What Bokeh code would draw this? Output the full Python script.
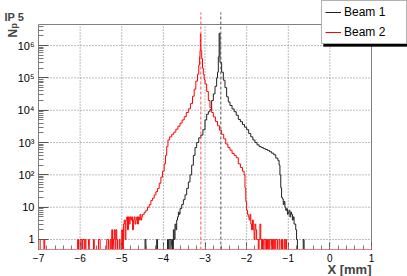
import numpy as np
from bokeh.plotting import figure
from bokeh.models import Range1d, FixedTicker, Label, Legend, LegendItem, BoxAnnotation
from bokeh.embed import file_html
from bokeh.resources import INLINE

# ---------------- data ----------------
title_text = "IP 5"
x_title = "X [mm]"
y_title = "N"
y_title_sub = "p"
names = ["Beam 1", "Beam 2"]

x_ticks = [-7, -6, -5, -4, -3, -2, -1, 0, 1]
y_ticks = [1, 10, 100, 1000, 10000, 100000, 1000000]
y_tick_labels = ["1", "10", "10²", "10³", "10⁴", "10⁵", "10⁶"]

x_limits = (-7.0, 1.0)
y_limits = (0.49, 4.5e6)      # visible plot area
y_top_ext = 1.06e7            # mean markers reach above the plot area

beam1_mean = -2.62
beam2_mean = -3.10

# Beam 1 histogram: (bin left edge [mm], entries)
beam1_bins = [
    (-7.00, 0), (-4.44, 1), (-4.42, 0), (-4.16, 1), (-4.14, 0), (-3.90, 1), (-3.88, 0),
    (-3.86, 1), (-3.82, 0), (-3.80, 1), (-3.78, 0), (-3.76, 2), (-3.74, 1), (-3.72, 3),
    (-3.70, 2), (-3.68, 4), (-3.66, 5), (-3.64, 7), (-3.62, 6), (-3.60, 9), (-3.56, 12),
    (-3.52, 17), (-3.48, 24), (-3.44, 38), (-3.40, 60), (-3.36, 100), (-3.32, 200),
    (-3.28, 400), (-3.24, 700), (-3.20, 1000), (-3.15, 1400), (-3.10, 1700), (-3.05, 2500),
    (-3.00, 5000), (-2.96, 7500), (-2.92, 9000), (-2.88, 10500), (-2.84, 20000),
    (-2.80, 32000), (-2.76, 55000), (-2.72, 100000), (-2.70, 150000), (-2.68, 450000),
    (-2.66, 2400000), (-2.64, 300000), (-2.60, 150000), (-2.56, 85000), (-2.52, 50000),
    (-2.48, 26000), (-2.44, 18000), (-2.40, 14000), (-2.35, 11000), (-2.30, 9000),
    (-2.25, 7000), (-2.20, 5200), (-2.15, 4400), (-2.10, 3600), (-2.05, 3000),
    (-2.00, 2500), (-1.95, 1900), (-1.90, 1500), (-1.85, 1200), (-1.80, 1000),
    (-1.75, 850), (-1.70, 750), (-1.65, 700), (-1.60, 650), (-1.55, 610), (-1.50, 570),
    (-1.45, 520), (-1.40, 470), (-1.35, 420), (-1.30, 330), (-1.25, 280), (-1.22, 200),
    (-1.20, 100), (-1.18, 40), (-1.16, 20), (-1.14, 18), (-1.12, 12), (-1.10, 15),
    (-1.08, 10), (-1.06, 8), (-1.04, 9), (-1.02, 6), (-1.00, 7), (-0.98, 8), (-0.96, 5),
    (-0.94, 7), (-0.92, 6), (-0.90, 4), (-0.88, 5), (-0.86, 3), (-0.82, 2), (-0.80, 1),
    (-0.78, 0), (-0.64, 1), (-0.62, 0),
]
beam1_end = 1.0

# Beam 2 histogram: (bin left edge [mm], entries)
beam2_bins = [
    (-7.00, 1), (-6.96, 0), (-6.87, 1), (-6.85, 0),
    (-6.06, 1), (-6.04, 0), (-6.00, 1), (-5.96, 0), (-5.94, 1), (-5.90, 0), (-5.88, 1),
    (-5.86, 0), (-5.80, 1), (-5.78, 0), (-5.68, 1), (-5.66, 0), (-5.56, 1), (-5.52, 0),
    (-5.36, 1), (-5.32, 0), (-5.28, 1), (-5.26, 0), (-5.24, 2), (-5.22, 0), (-5.20, 1),
    (-5.18, 2), (-5.16, 0), (-5.14, 2), (-5.12, 1), (-5.10, 0), (-5.06, 1), (-5.04, 0),
    (-5.00, 2), (-4.98, 0), (-4.96, 3), (-4.94, 4), (-4.92, 1), (-4.90, 4), (-4.88, 5),
    (-4.86, 2), (-4.84, 5), (-4.82, 3), (-4.80, 5), (-4.78, 4), (-4.76, 5), (-4.74, 2),
    (-4.72, 4), (-4.70, 5), (-4.68, 3), (-4.66, 4), (-4.64, 5), (-4.62, 3), (-4.60, 5),
    (-4.58, 4), (-4.56, 6), (-4.54, 4), (-4.52, 5), (-4.50, 6),
    (-4.46, 7), (-4.42, 8), (-4.38, 10), (-4.34, 12), (-4.30, 16), (-4.26, 19),
    (-4.22, 24), (-4.18, 30), (-4.14, 38), (-4.10, 55), (-4.06, 85), (-4.02, 130),
    (-3.98, 220), (-3.95, 400), (-3.92, 750), (-3.89, 1200), (-3.85, 1500), (-3.80, 1800),
    (-3.75, 2100), (-3.70, 2600), (-3.65, 3200), (-3.60, 4000), (-3.55, 5000),
    (-3.50, 6300), (-3.45, 8500), (-3.40, 11000), (-3.35, 16000), (-3.30, 27000),
    (-3.26, 45000), (-3.22, 80000), (-3.18, 130000), (-3.15, 250000), (-3.13, 450000),
    (-3.12, 700000), (-3.11, 2300000), (-3.10, 700000), (-3.08, 400000), (-3.06, 200000),
    (-3.04, 130000), (-3.02, 90000), (-3.00, 65000), (-2.96, 38000), (-2.92, 20000),
    (-2.88, 12000), (-2.84, 8500), (-2.80, 6200), (-2.75, 4500), (-2.70, 3300),
    (-2.65, 2400), (-2.60, 1800), (-2.55, 1300), (-2.50, 900), (-2.45, 700), (-2.40, 580),
    (-2.35, 460), (-2.30, 400), (-2.25, 340), (-2.20, 220), (-2.15, 170), (-2.10, 130),
    (-2.06, 100), (-2.04, 40), (-2.02, 15), (-2.00, 8),
    (-1.98, 6), (-1.96, 5), (-1.94, 4), (-1.92, 6), (-1.90, 3), (-1.88, 2), (-1.86, 4),
    (-1.84, 2), (-1.82, 1), (-1.80, 3), (-1.78, 2), (-1.76, 1), (-1.72, 0), (-1.70, 1),
    (-1.68, 3), (-1.66, 1), (-1.64, 0), (-1.62, 1), (-1.60, 0), (-1.58, 1), (-1.54, 0),
    (-1.52, 1), (-1.50, 0), (-1.48, 1), (-1.46, 0), (-1.44, 1), (-1.40, 0), (-1.38, 1),
    (-1.36, 0), (-1.34, 1), (-1.32, 0), (-1.30, 1), (-1.26, 0), (-1.22, 1), (-1.20, 0),
    (-1.16, 1), (-1.14, 0), (-1.10, 1), (-1.08, 0), (-1.06, 1), (-1.04, 0),
]
beam2_end = 1.0

# ---------------- layout geometry (canvas pixels) ----------------
W, H = 407, 276
PL, PR, PT, PB = 38, 371, 24, 249   # plot area inside the canvas

ly0, ly1 = np.log10(y_limits[0]), np.log10(y_limits[1])
x_per_px = (x_limits[1] - x_limits[0]) / (PR - PL)
ly_per_px = (ly1 - ly0) / (PB - PT)
xr = (x_limits[0] - PL * x_per_px, x_limits[1] + (W - PR) * x_per_px)
yr = (10 ** (ly0 - (H - PB) * ly_per_px), 10 ** (ly1 + PT * ly_per_px))


def px_x(cx):
    return xr[0] + cx * x_per_px


def px_y(cy):
    return 10 ** (np.log10(yr[1]) - cy * ly_per_px)


def step_arrays(bins, end):
    xs = [b[0] for b in bins] + [end]
    ys = [b[1] if b[1] > 0 else y_limits[0] for b in bins]
    ys = ys + [ys[-1]]
    return xs, ys


FONT = "Liberation Sans"

p = figure(width=W, height=H, output_backend="svg", toolbar_location=None,
           x_range=Range1d(*xr), y_range=Range1d(*yr), y_axis_type="log",
           min_border_left=0, min_border_right=0, min_border_top=0, min_border_bottom=0)
p.title.visible = False
p.outline_line_color = None
p.background_fill_color = "white"
p.border_fill_color = "white"
p.xgrid.visible = False
p.ygrid.visible = False

# grid lines
grid_x = [t for t in x_ticks if x_limits[0] < t < x_limits[1]]
p.segment(x0=grid_x, y0=[y_limits[0]] * len(grid_x), x1=grid_x, y1=[y_limits[1]] * len(grid_x),
          line_color="#7a7a7a", line_dash="1 2", line_width=1)
p.segment(x0=[x_limits[0]] * len(y_ticks), y0=y_ticks, x1=[x_limits[1]] * len(y_ticks), y1=y_ticks,
          line_color="#7a7a7a", line_dash="1 2", line_width=1)

# frame top and right edges
p.segment(x0=[x_limits[0]], y0=[y_limits[1]], x1=[x_limits[1]], y1=[y_limits[1]],
          line_color="#808080", line_width=1)
p.segment(x0=[x_limits[1]], y0=[y_limits[0]], x1=[x_limits[1]], y1=[y_limits[1]],
          line_color="#808080", line_width=1)

x1, y1 = step_arrays(beam1_bins, beam1_end)
x2, y2 = step_arrays(beam2_bins, beam2_end)
r1 = p.step(x1, y1, mode="after", line_color="#202020", line_width=1)
r2 = p.step(x2, y2, mode="after", line_color="red", line_width=1)

# mean markers
p.segment(x0=[beam2_mean], y0=[y_limits[0]], x1=[beam2_mean], y1=[y_top_ext],
          line_color="#ff5050", line_dash="3 2", line_width=1)
p.segment(x0=[beam1_mean], y0=[y_limits[0]], x1=[beam1_mean], y1=[y_top_ext],
          line_color="#555555", line_dash="3 2", line_width=1)

# axes (fixed at the plot-area edges)
xa = p.xaxis[0]
xa.fixed_location = y_limits[0]
xa.bounds = x_limits
xa.ticker = FixedTicker(ticks=x_ticks, minor_ticks=list(np.round(np.arange(-7, 1.001, 0.2), 2)))
xa.major_tick_in = 7
xa.major_tick_out = 0
xa.minor_tick_in = 4
xa.minor_tick_out = 0
xa.major_tick_line_color = "#555555"
xa.minor_tick_line_color = "#777777"
xa.axis_line_color = "#f08080"
xa.major_label_standoff = 4
xa.major_label_text_font = FONT
xa.major_label_text_font_size = "10px"
xa.major_label_text_color = "black"

minor_y = [m * 10 ** d for d in range(0, 6) for m in range(2, 10)] + [2000000, 3000000, 4000000]
ya = p.yaxis[0]
ya.fixed_location = x_limits[0]
ya.bounds = y_limits
ya.ticker = FixedTicker(ticks=y_ticks, minor_ticks=minor_y)
ya.major_label_overrides = {t: lab for t, lab in zip(y_ticks, y_tick_labels)}
ya.major_tick_in = 10
ya.major_tick_out = 0
ya.minor_tick_in = 5
ya.minor_tick_out = 0
ya.major_tick_line_color = "#555555"
ya.minor_tick_line_color = "#777777"
ya.axis_line_color = "#808080"
ya.major_label_standoff = 4
ya.major_label_text_font = FONT
ya.major_label_text_font_size = "11px"
ya.major_label_text_color = "black"

# texts
p.add_layout(Label(x=px_x(4), y=px_y(16), text=title_text, text_font=FONT,
                   text_font_size="11px", text_font_style="bold",
                   text_baseline="alphabetic", text_align="left"))
p.add_layout(Label(x=x_limits[1], y=px_y(269), text=x_title, text_font=FONT,
                   text_font_size="13px", text_font_style="bold",
                   text_baseline="alphabetic", text_align="right"))
p.add_layout(Label(x=px_x(12), y=px_y(37), text=y_title, text_font=FONT,
                   text_font_size="12px", angle=np.pi / 2, text_font_style="bold",
                   text_baseline="alphabetic", text_align="left"))
p.add_layout(Label(x=px_x(13), y=px_y(28), text=y_title_sub, text_font=FONT,
                   text_font_size="9px", angle=np.pi / 2, text_font_style="bold",
                   text_baseline="alphabetic", text_align="left"))

# legend with drop shadow
LG_L, LG_T, LG_W, LG_H = 321, 2, 84, 42
p.add_layout(BoxAnnotation(left=px_x(LG_L + 2), right=px_x(LG_L + LG_W + 2),
                           top=px_y(LG_T + 2), bottom=px_y(LG_T + LG_H + 2),
                           fill_color="black", fill_alpha=1, line_color="black"))
legend = Legend(items=[LegendItem(label=names[0], renderers=[r1]),
                       LegendItem(label=names[1], renderers=[r2])],
                location=(LG_L, H - LG_T - LG_H), orientation="vertical", margin=0,
                padding=3, spacing=4, glyph_width=16, glyph_height=16, label_height=16,
                label_width=59, label_standoff=3, label_text_font=FONT,
                label_text_font_size="12px", label_text_color="black",
                border_line_color="#666666", border_line_width=1,
                background_fill_color="white", background_fill_alpha=1)
p.add_layout(legend)

open("out.html", "w").write(file_html(p, INLINE))
